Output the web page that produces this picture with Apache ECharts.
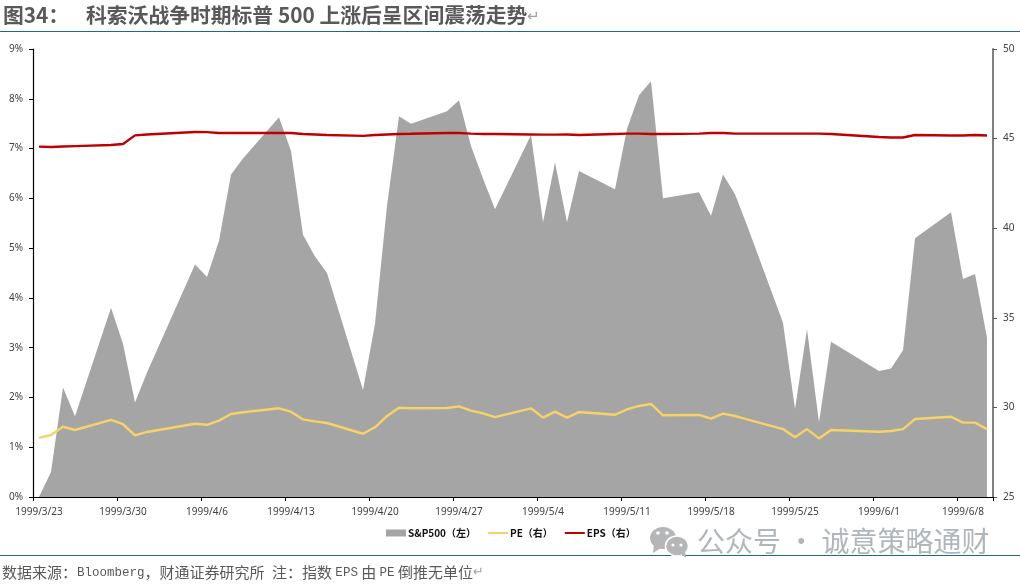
<!DOCTYPE html>
<html><head><meta charset="utf-8">
<style>html,body{margin:0;padding:0;background:#fff}#c{width:1020px;height:585px}</style>
<script src="https://cdn.jsdelivr.net/npm/echarts@6/dist/echarts.min.js"></script>
</head><body><div id="c"></div>
<script>
var days = [
'1999/3/23','1999/3/24','1999/3/25','1999/3/26','1999/3/27','1999/3/28','1999/3/29',
'1999/3/30','1999/3/31','1999/4/1','1999/4/2','1999/4/3','1999/4/4','1999/4/5',
'1999/4/6','1999/4/7','1999/4/8','1999/4/9','1999/4/10','1999/4/11','1999/4/12',
'1999/4/13','1999/4/14','1999/4/15','1999/4/16','1999/4/17','1999/4/18','1999/4/19',
'1999/4/20','1999/4/21','1999/4/22','1999/4/23','1999/4/24','1999/4/25','1999/4/26',
'1999/4/27','1999/4/28','1999/4/29','1999/4/30','1999/5/1','1999/5/2','1999/5/3',
'1999/5/4','1999/5/5','1999/5/6','1999/5/7','1999/5/8','1999/5/9','1999/5/10',
'1999/5/11','1999/5/12','1999/5/13','1999/5/14','1999/5/15','1999/5/16','1999/5/17',
'1999/5/18','1999/5/19','1999/5/20','1999/5/21','1999/5/22','1999/5/23','1999/5/24',
'1999/5/25','1999/5/26','1999/5/27','1999/5/28','1999/5/29','1999/5/30','1999/5/31',
'1999/6/1','1999/6/2','1999/6/3','1999/6/4','1999/6/5','1999/6/6','1999/6/7',
'1999/6/8','1999/6/9','1999/6/10'];
var sp500 = [
0,0.5,2.2,1.62,null,null,3.8,
3.08,1.9,2.5,null,null,null,4.67,
4.42,5.15,6.48,6.8,null,null,7.63,
6.95,5.27,4.83,4.5,null,null,2.15,
3.48,5.85,7.65,7.5,null,null,7.75,
7.97,7.05,6.4,5.78,null,null,7.27,
5.52,6.72,5.52,6.55,null,null,6.18,
7.4,8.07,8.35,6,null,null,6.12,
5.65,6.48,6.08,5.46,null,null,3.5,
1.77,3.37,1.5,3.12,null,null,null,
2.53,2.58,2.95,5.2,null,null,5.72,
4.38,4.48,3.2];
var pe = [
28.3,28.46,28.92,28.74,null,null,29.3,
29.06,28.44,28.63,null,null,null,29.09,
29.03,29.26,29.63,29.73,null,null,29.95,
29.76,29.33,29.22,29.13,null,null,28.53,
28.89,29.52,29.98,29.95,null,null,29.97,
30.06,29.82,29.67,29.46,null,null,29.95,
29.43,29.76,29.43,29.74,null,null,29.59,
29.89,30.08,30.19,29.56,null,null,29.58,
29.37,29.65,29.52,29.33,null,null,28.79,
28.33,28.79,28.27,28.74,null,null,null,
28.64,28.68,28.79,29.35,null,null,29.48,
29.15,29.15,28.79];
var eps = [
44.55,44.53,44.56,44.58,null,null,44.64,
44.7,45.18,45.23,null,null,null,45.37,
45.36,45.31,45.31,45.31,null,null,45.31,
45.31,45.26,45.23,45.2,null,null,45.15,
45.2,45.23,45.26,45.27,null,null,45.31,
45.31,45.28,45.26,45.26,null,null,45.23,
45.22,45.22,45.23,45.2,null,null,45.26,
45.28,45.28,45.26,45.26,null,null,45.28,
45.31,45.31,45.28,45.28,null,null,45.28,
45.28,45.28,45.28,45.26,null,null,null,
45.09,45.06,45.06,45.2,null,null,45.17,
45.17,45.2,45.17];
var titleLead = '图34：';
var titleMain = '科索沃战争时期标普 500 上涨后呈区间震荡走势';
var watermark = '公众号 · 诚意策略通财';

var cjk = '"Noto Sans CJK SC","Noto Sans",sans-serif';
var chart = echarts.init(document.getElementById('c'), null, {renderer:'canvas'});
var labelStyle = {color:'#404040', fontFamily:'"Noto Sans",sans-serif', fontSize:10};
var lineIcon = 'path://M0,0L0,0ZM0,25H200V45H0ZM200,70L200,70Z';
chart.setOption({
  backgroundColor:'#fff',
  animation:false,
  grid:{left:33,right:27,top:49,bottom:88,containLabel:false},
  legend:{
    left:386, top:528, padding:0, itemGap:12, itemWidth:20, itemHeight:7,
    textStyle:{color:'#111',fontSize:10,fontWeight:'bold',fontFamily:cjk,padding:[0,0,0,-3]},
    data:[{name:'S&P500（左）',icon:'rect',textStyle:{padding:[0,7,0,-3]}},{name:'PE（右）',icon:lineIcon},{name:'EPS（右）',icon:lineIcon}]
  },
  xAxis:{
    type:'category', data:days, boundaryGap:true,
    axisLine:{lineStyle:{color:'#000',width:1.2}},
    axisTick:{show:true,interval:6,length:4,lineStyle:{color:'#000',width:1}},
    axisLabel:Object.assign({interval:6,margin:10},labelStyle),
    splitLine:{show:false}
  },
  yAxis:[
    {type:'value',min:0,max:9,interval:1,position:'left',
     axisLine:{show:true,lineStyle:{color:'#000',width:1.2}},
     axisTick:{show:true,length:4,lineStyle:{color:'#000'}},
     axisLabel:Object.assign({formatter:'{value}%',margin:10},labelStyle),
     splitLine:{show:false}},
    {type:'value',min:25,max:50,interval:5,position:'right',
     axisLine:{show:true,lineStyle:{color:'#7f7f7f',width:2}},
     axisTick:{show:true,length:4,lineStyle:{color:'#555'}},
     axisLabel:Object.assign({margin:10},labelStyle),
     splitLine:{show:false}}
  ],
  series:[
    {name:'S&P500（左）',type:'line',yAxisIndex:0,data:sp500,connectNulls:true,showSymbol:false,symbol:'none',
     lineStyle:{width:0,color:'#a5a5a5'},itemStyle:{color:'#a5a5a5'},areaStyle:{color:'#a5a5a5',opacity:1}},
    {name:'PE（右）',type:'line',yAxisIndex:1,data:pe,connectNulls:true,showSymbol:false,symbol:'none',
     lineStyle:{width:2.4,color:'#f6d267'},itemStyle:{color:'#f6d267'}},
    {name:'EPS（右）',type:'line',yAxisIndex:1,data:eps,connectNulls:true,showSymbol:false,symbol:'none',
     lineStyle:{width:2.4,color:'#c00000'},itemStyle:{color:'#c00000'}}
  ],
  graphic:[
    {type:'text',left:3,top:5,style:{text:titleLead,font:'bold 20.8px '+cjk,fill:'#595959'}},
    {type:'text',left:86,top:5,style:{text:titleMain,font:'bold 20.8px '+cjk,fill:'#595959'}},
    {type:'text',left:527,top:10,style:{text:'↵',font:'15px "DejaVu Sans"',fill:'#a0a0a0'}},
    {type:'line',shape:{x1:0,y1:31.5,x2:1020,y2:31.5},style:{stroke:'#1b6a8c',lineWidth:1}},
    {type:'line',shape:{x1:0,y1:555.5,x2:1020,y2:555.5},style:{stroke:'#1b6a8c',lineWidth:1}},
    {type:'text',left:2,top:565,style:{
      text:'{a|数据来源：}{b|Bloomberg}{a|，财通证券研究所}{b| }{a|注：指数 }{b|EPS}{a| 由 }{b|PE}{a| 倒推无单位}{c|↵}',
      rich:{a:{font:'15px '+cjk,fill:'#595959',color:'#595959'},
            b:{font:'12.5px "Liberation Mono"',fill:'#595959',color:'#595959'},
            c:{font:'13px "DejaVu Sans"',fill:'#a0a0a0',color:'#a0a0a0'}}}},
    {type:'ellipse',shape:{cx:663,cy:538,rx:13,ry:11},style:{fill:'#b4b6b8'}},
    {type:'polygon',shape:{points:[[654,544],[653,553],[661,548]]},style:{fill:'#b4b6b8'}},
    {type:'ellipse',shape:{cx:677,cy:546,rx:11.5,ry:10},style:{fill:'#b4b6b8',stroke:'#fff',lineWidth:1.5}},
    {type:'polygon',shape:{points:[[680,553],[686,558],[685,551]]},style:{fill:'#b4b6b8'}},
    {type:'circle',shape:{cx:658,cy:533,r:1.8},style:{fill:'#fff'}},
    {type:'circle',shape:{cx:667,cy:533,r:1.8},style:{fill:'#fff'}},
    {type:'circle',shape:{cx:673,cy:545,r:1.6},style:{fill:'#fff'}},
    {type:'circle',shape:{cx:681,cy:545,r:1.6},style:{fill:'#fff'}},
    {type:'text',left:697,top:527,z:10,style:{text:watermark,font:'28px '+cjk,fill:'rgba(172,178,184,0.95)'}}
  ]
});
</script></body></html>
